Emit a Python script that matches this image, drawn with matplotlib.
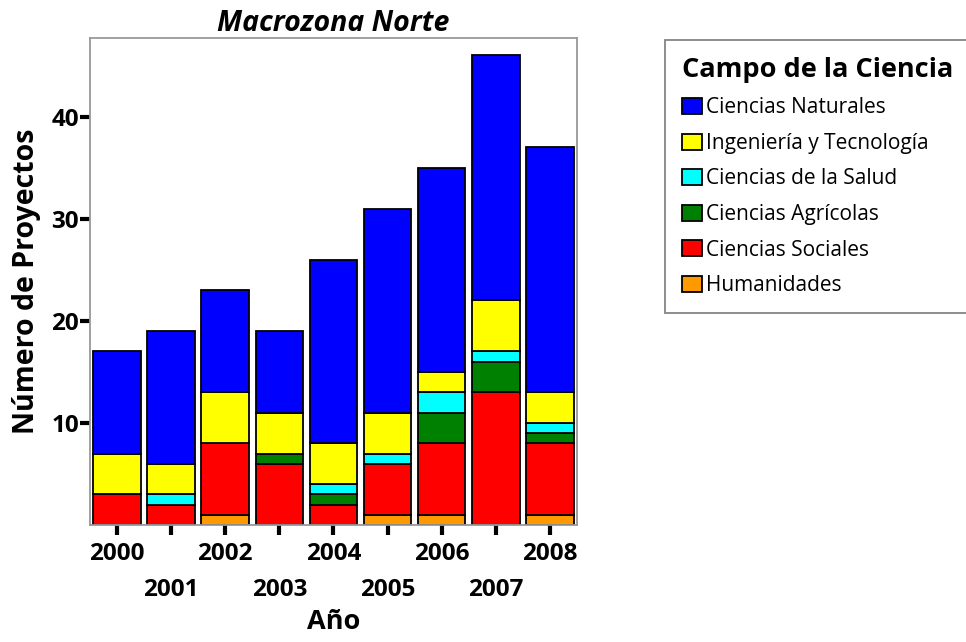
import matplotlib.pyplot as plt
import numpy as np

years = [2000, 2001, 2002, 2003, 2004, 2005, 2006, 2007, 2008]
humanidades = [0, 0, 1, 0, 0, 1, 1, 0, 1]
sociales = [3, 2, 7, 6, 2, 5, 7, 13, 7]
agricolas = [0, 0, 0, 1, 1, 0, 3, 3, 1]
salud = [0, 1, 0, 0, 1, 1, 2, 1, 1]
ingenieria = [4, 3, 5, 4, 4, 4, 2, 5, 3]
naturales = [10, 13, 10, 8, 18, 20, 20, 24, 24]

series = [
    ("Humanidades", humanidades, "#ff9900"),
    ("Ciencias Sociales", sociales, "#ff0000"),
    ("Ciencias Agrícolas", agricolas, "#008000"),
    ("Ciencias de la Salud", salud, "#00ffff"),
    ("Ingeniería y Tecnología", ingenieria, "#ffff00"),
    ("Ciencias Naturales", naturales, "#0000ff"),
]


def main():
    plt.rcParams["font.family"] = ["Open Sans", "DejaVu Sans"]
    fig = plt.figure(figsize=(9.66, 6.42), dpi=100)
    ax = fig.add_axes([0.0932, 0.1822, 0.504, 0.7586])

    x = np.arange(len(years))
    bottom = np.zeros(len(years))
    handles = []
    for name, vals, color in series:
        vals = np.array(vals, dtype=float)
        bars = ax.bar(x, vals, 0.88, bottom=bottom, color=color,
                      edgecolor="black", linewidth=1.3, label=name)
        handles.append(bars)
        bottom += vals

    ax.set_xlim(-0.5, len(years) - 0.5)
    ax.set_ylim(0, 47.7)
    ax.set_yticks([10, 20, 30, 40])
    ax.set_xticks(x)
    ax.set_xticklabels([str(y) if i % 2 == 0 else "\n" + str(y)
                        for i, y in enumerate(years)], linespacing=1.68)
    for lbl in ax.get_xticklabels() + ax.get_yticklabels():
        lbl.set_fontweight("bold")
        lbl.set_fontsize(17.5)
    ax.tick_params(axis="x", length=7, width=3, color="black", pad=5)
    ax.tick_params(axis="y", length=7, width=3, color="black", pad=1)
    for s in ax.spines.values():
        s.set_color("#999999")
        s.set_linewidth(1.3)

    ax.set_xlabel("Año", fontsize=19.5, fontweight="bold", labelpad=5)
    ax.set_ylabel("Número de Proyectos", fontsize=20.5, fontweight="bold",
                  labelpad=7)
    ax.set_title("Macrozona Norte", fontsize=20.5, fontweight="bold",
                 fontstyle="italic", pad=1)

    leg = fig.legend(handles[::-1], [s[0] for s in series][::-1],
                     loc="upper left", bbox_to_anchor=(665 / 966, 1 - 40 / 642),
                     title="Campo de la Ciencia", fontsize=15,
                     title_fontproperties={"weight": "bold", "size": 19.5},
                     frameon=True, fancybox=False, edgecolor="#666666",
                     handlelength=0.96, handleheight=0.82, handletextpad=0.2,
                     labelspacing=0.7, borderpad=0.8, borderaxespad=0,
                     alignment="left")
    leg.get_frame().set_linewidth(1.3)

    fig.savefig("out.png", dpi=100)


if __name__ == "__main__":
    main()
